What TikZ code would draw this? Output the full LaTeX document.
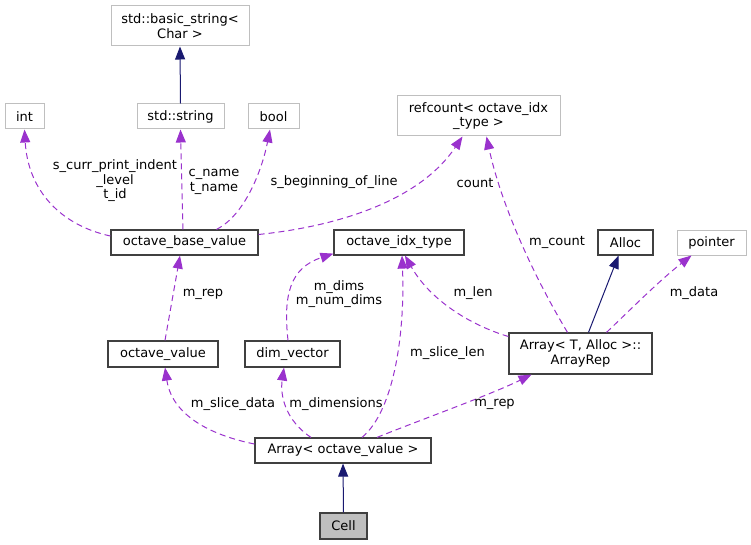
\documentclass[tikz,border=0pt]{standalone}
\usepackage{fontspec}
\setmainfont{DejaVu Sans}
\usetikzlibrary{arrows.meta}
\definecolor{purp}{HTML}{9A32CD}
\definecolor{navy}{HTML}{191970}
\definecolor{gbord}{HTML}{BFBFBF}
\definecolor{bbord}{HTML}{404040}
\begin{document}
\begin{tikzpicture}[x=1pt,y=-1pt,
  every node/.style={font=\fontsize{13}{14.5}\selectfont, inner sep=0pt, align=center},
  gbox/.style={draw=gbord, line width=1pt, fill=white},
  bbox/.style={draw=bbord, line width=1.2pt, fill=white},
  mem/.style={draw=purp, line width=1pt, dash pattern=on 6pt off 4pt, -{Triangle[length=13pt,width=10pt]}},
  inh/.style={draw=navy, line width=1pt, -{Triangle[length=13pt,width=10pt]}},
  lbl/.style={fill=none}
]
\useasboundingbox (0,0) rectangle (751,545);
% nodes
\node[gbox, minimum width=138pt, minimum height=40pt] (bstr) at (180,26) {std::basic\_string\textless\\Char \textgreater};
\node[gbox, minimum width=39pt, minimum height=25pt] (int) at (24.5,116.5) {int};
\node[gbox, minimum width=87pt, minimum height=25pt] (stdstr) at (180.5,116.5) {std::string};
\node[gbox, minimum width=51pt, minimum height=25pt] (bool) at (273.5,116.5) {bool};
\node[gbox, minimum width=163pt, minimum height=40pt] (refc) at (478.5,116) {refcount\textless{} octave\_idx\\\_type \textgreater};
\node[bbox, minimum width=147pt, minimum height=25pt] (obv) at (184.5,242.5) {octave\_base\_value};
\node[bbox, minimum width=130pt, minimum height=25pt] (oit) at (399,242.5) {octave\_idx\_type};
\node[bbox, minimum width=55pt, minimum height=25pt] (alloc) at (625.5,242.5) {Alloc};
\node[gbox, minimum width=69pt, minimum height=25pt] (ptr) at (711.5,242.5) {pointer};
\node[bbox, minimum width=110pt, minimum height=26pt] (ov) at (163,354) {octave\_value};
\node[bbox, minimum width=95pt, minimum height=26pt] (dimv) at (292.5,354) {dim\_vector};
\node[bbox, minimum width=143pt, minimum height=41pt] (arep) at (580.5,353.5) {Array\textless{} T, Alloc \textgreater::\\ArrayRep};
\node[bbox, minimum width=176pt, minimum height=25pt] (arr) at (343,450.5) {Array\textless{} octave\_value \textgreater};
\node[bbox, fill={rgb,255:red,191;green,191;blue,191}, minimum width=47pt, minimum height=26pt] (cell) at (343.5,526) {Cell};
% edges
\draw[inh] (stdstr.north) -- (bstr.south);
\draw[mem] ([yshift=6.5pt]obv.west) .. controls (60,225) and (28,190) .. (int.south);
\draw[mem] ([xshift=-1.5pt]obv.north) -- (stdstr.south);
\draw[mem] ([xshift=32pt]obv.north) .. controls (245,215) and (262,170) .. ([xshift=-3.5pt]bool.south);
\draw[mem] ([yshift=8pt]obv.east) .. controls (340,226) and (420,200) .. ([xshift=-16pt]refc.south);
\draw[mem] ([xshift=-13pt]arep.north) .. controls (530,270) and (500,200) .. ([xshift=8pt]refc.south);
\draw[inh] ([xshift=8pt]arep.north) -- ([xshift=-7pt]alloc.south);
\draw[mem] ([xshift=26pt]arep.north) .. controls (630,310) and (660,280) .. ([xshift=-20pt]ptr.south);
\draw[mem] ([yshift=17pt]arep.west) .. controls (470,325) and (430,300) .. ([xshift=6pt]oit.south);
\draw[mem] ([xshift=-4.5pt]dimv.north) .. controls (283,295) and (290,268) .. ([yshift=2pt]oit.south west);
\draw[mem] ([xshift=19pt]arr.north) .. controls (395,410) and (405,330) .. ([xshift=3pt]oit.south);
\draw[mem] ([xshift=2pt]ov.north) -- ([xshift=-4.5pt]obv.south);
\draw[mem] ([yshift=6.5pt]arr.west) .. controls (210,435) and (172,415) .. ([xshift=2pt]ov.south);
\draw[mem] ([xshift=-32pt]arr.north) .. controls (285,420) and (280,395) .. ([xshift=-8.5pt]dimv.south);
\draw[mem] ([xshift=34pt]arr.north) .. controls (420,420) and (490,395) .. ([xshift=-49pt]arep.south);
\draw[inh] (cell.north) -- (arr.south);
% labels
\node[lbl] (l1) at (115,181) {s\_curr\_print\_indent\\\_level\\t\_id};
\node[lbl] (l2) at (214,182) {c\_name\\t\_name};
\node[lbl] (l3) at (334,182) {s\_beginning\_of\_line};
\node[lbl] (l4) at (475,183) {count};
\node[lbl] (l5) at (557,242) {m\_count};
\node[lbl] (l6) at (473,293) {m\_len};
\node[lbl] (l7) at (694,293) {m\_data};
\node[lbl] (l8) at (447.5,353) {m\_slice\_len};
\node[lbl] (l9) at (203,294) {m\_rep};
\node[lbl] (l10) at (339,294) {m\_dims\\m\_num\_dims};
\node[lbl] (l11) at (233,404) {m\_slice\_data};
\node[lbl] (l12) at (336,404) {m\_dimensions};
\node[lbl] (l13) at (494.5,404) {m\_rep};
\end{tikzpicture}
\end{document}
